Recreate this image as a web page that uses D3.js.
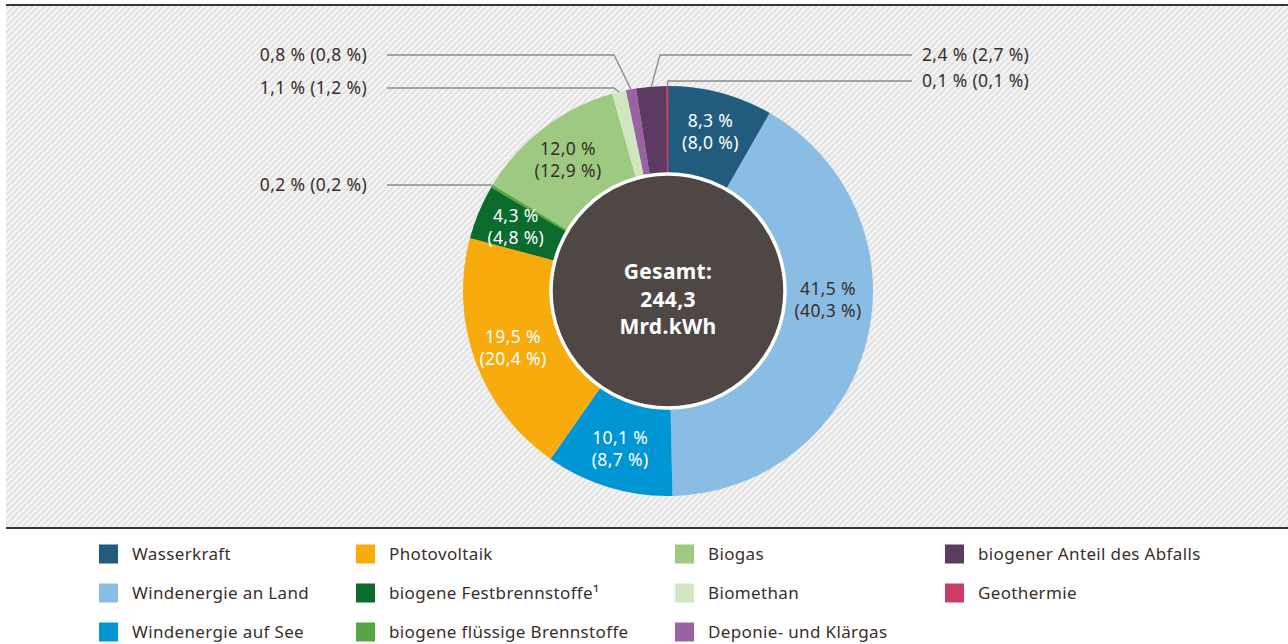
<!doctype html>
<html>
  <head>
    <script src="https://cdnjs.cloudflare.com/ajax/libs/d3/7.8.5/d3.min.js"></script>
  <style>
    body { margin: 0; background: #fff; }
    text { font-family: "Noto Sans", sans-serif; }
  </style>
  </head>
  <body>
    <svg id="chart" width="1288" height="644"></svg>
    <script>
      // Anteile 2023 (Vorjahr in Klammern)
      var names = ["Wasserkraft", "Windenergie an Land", "Windenergie auf See", "Photovoltaik",
        "biogene Festbrennstoffe\u00b9", "biogene flüssige Brennstoffe", "Biogas", "Biomethan",
        "Deponie- und Klärgas", "biogener Anteil des Abfalls", "Geothermie"];
      var shares = [8.3, 41.5, 10.1, 19.5, 4.3, 0.2, 12.0, 1.1, 0.8, 2.4, 0.1];
      var prevShares = [8.0, 40.3, 8.7, 20.4, 4.8, 0.2, 12.9, 1.2, 0.8, 2.7, 0.1];
      var colors = ["#215c7e", "#89bde3", "#0096d4", "#f8ab0c", "#0a6b2d", "#55a642",
        "#9dca80", "#d1e6c0", "#9a62a3", "#5d3a62", "#c93c65"];
      var totalLines = ["Gesamt:", "244,3", "Mrd.kWh"];

      var fmt = v => d3.format(".1f")(v).replace(".", ",") + " %";

      var data = names.map((n, i) => ({name: n, value: shares[i], prev: prevShares[i], color: colors[i]}));

      var svg = d3.select("#chart");

      // Schraffur
      var defs = svg.append("defs");
      var pat = defs.append("pattern")
        .attr("id", "hatch")
        .attr("patternUnits", "userSpaceOnUse")
        .attr("width", 4.4).attr("height", 4.4)
        .attr("patternTransform", "rotate(45)");
      pat.append("rect").attr("width", 4.4).attr("height", 4.4).attr("fill", "#f7f7f7");
      pat.append("rect").attr("width", 2.2).attr("height", 4.4).attr("fill", "#e1e1e1");

      svg.append("rect")
        .attr("x", 6).attr("y", 6).attr("width", 1282).attr("height", 521)
        .attr("fill", "url(#hatch)");
      svg.append("line").attr("x1", 6).attr("x2", 1288).attr("y1", 5).attr("y2", 5)
        .attr("stroke", "#3d3431").attr("stroke-width", 2);
      svg.append("line").attr("x1", 6).attr("x2", 1288).attr("y1", 528).attr("y2", 528)
        .attr("stroke", "#3d3431").attr("stroke-width", 2);

      var cx = 668, cy = 291, rOuter = 205, rInner = 116;

      var pie = d3.pie().sort(null).value(d => d.value);
      var arcs = pie(data);
      var arc = d3.arc().innerRadius(rInner).outerRadius(rOuter);
      var labelArc = d3.arc().innerRadius(165).outerRadius(165);

      var g = svg.append("g").attr("transform", "translate(" + cx + "," + cy + ")");

      g.selectAll("path.slice")
        .data(arcs)
        .enter()
        .append("path")
          .attr("class", "slice")
          .attr("d", arc)
          .attr("fill", d => d.data.color)
          .attr("stroke", d => d.data.value < 0.5 ? d.data.color : "none")
          .attr("stroke-width", 0.8);

      g.append("circle")
        .attr("r", rInner + 1)
        .attr("fill", "#4e4743")
        .attr("stroke", "#fff")
        .attr("stroke-width", 3.5);

      g.selectAll("text.total")
        .data(totalLines)
        .enter()
        .append("text")
          .attr("class", "total")
          .attr("text-anchor", "middle")
          .attr("y", (d, i) => -19 + i * 27.5)
          .attr("dy", "0.35em")
          .attr("fill", "#fff")
          .attr("font-size", 21)
          .attr("font-weight", "bold")
          .attr("letter-spacing", 0.3)
          .text(d => d);

      // Beschriftungen innen
      var darkText = ["Windenergie an Land", "Biogas"];
      var inside = arcs.filter(d => d.data.value >= 4);
      var lbl = g.selectAll("g.lbl")
        .data(inside)
        .enter()
        .append("g")
          .attr("class", "lbl")
          .attr("transform", d => {
            var p = labelArc.centroid(d);
            if (d.data.name === "Windenergie an Land") p = [160, 9];
            return "translate(" + p + ")";
          });
      lbl.append("text")
        .attr("text-anchor", "middle")
        .attr("y", -11).attr("dy", "0.35em")
        .attr("font-size", 17.5)
        .attr("letter-spacing", 0.35)
        .attr("fill", d => darkText.includes(d.data.name) ? "#3a2e2a" : "#fff")
        .text(d => fmt(d.data.value));
      lbl.append("text")
        .attr("text-anchor", "middle")
        .attr("y", 11).attr("dy", "0.35em")
        .attr("font-size", 17.5)
        .attr("letter-spacing", 0.35)
        .attr("fill", d => darkText.includes(d.data.name) ? "#3a2e2a" : "#fff")
        .text(d => "(" + fmt(d.data.prev) + ")");

      // Beschriftungen außen mit Führungslinien
      var outside = {
        "biogene flüssige Brennstoffe": {side: -1, y: -106, elbow: null},
        "Biomethan": {side: -1, y: -203, elbow: -54},
        "Deponie- und Klärgas": {side: -1, y: -236, elbow: -54},
        "biogener Anteil des Abfalls": {side: 1, y: -236, elbow: -8},
        "Geothermie": {side: 1, y: -210, elbow: 0}
      };
      var edgeArc = d3.arc().innerRadius(rOuter).outerRadius(rOuter);
      arcs.filter(d => outside[d.data.name]).forEach(d => {
        var o = outside[d.data.name];
        var p = edgeArc.centroid(d);
        var endX = o.side < 0 ? -281 : 244;
        var pts = o.elbow === null ? [[p[0], o.y], [endX, o.y]] : [p, [o.elbow, o.y], [endX, o.y]];
        g.append("path")
          .attr("d", d3.line()(pts))
          .attr("fill", "none")
          .attr("stroke", "#8c8c8c")
          .attr("stroke-width", 1.3);
        g.append("text")
          .attr("x", o.side < 0 ? endX - 20 : endX + 10)
          .attr("y", o.y).attr("dy", "0.35em")
          .attr("text-anchor", o.side < 0 ? "end" : "start")
          .attr("font-size", 17.5)
          .attr("letter-spacing", 0.35)
          .attr("fill", "#3a2e2a")
          .text(fmt(d.data.value) + " (" + fmt(d.data.prev) + ")");
      });

      // Legende
      var colX = [99, 356, 675, 945];
      var legend = svg.selectAll("g.legend")
        .data(data)
        .enter()
        .append("g")
          .attr("class", "legend")
          .attr("transform", (d, i) => "translate(" + colX[Math.floor(i / 3)] + "," + (554 + (i % 3) * 39) + ")");
      legend.append("rect")
        .attr("x", 0).attr("y", -9.5)
        .attr("width", 19).attr("height", 19)
        .attr("fill", d => d.color);
      legend.append("text")
        .attr("x", 33).attr("dy", "0.35em")
        .attr("font-size", 17)
        .attr("letter-spacing", 0.35)
        .attr("fill", "#3a2e2a")
        .text(d => d.name);
    </script>
  </body>
</html>
